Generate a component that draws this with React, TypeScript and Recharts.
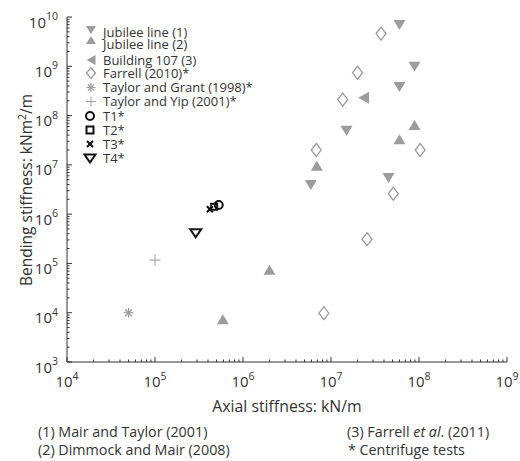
import React from 'react';
import { ScatterChart, Scatter, XAxis, YAxis } from 'recharts';

// [axial stiffness kN/m, bending stiffness kNm2/m]
const jubilee1 = [
  [6.0e7, 6.9e9],
  [8.9e7, 9.8e8],
  [6.0e7, 3.8e8],
  [1.5e7, 4.9e7],
  [5.9e6, 3.9e6],
  [4.5e7, 5.4e6],
];
const jubilee2 = [
  [8.9e7, 6.4e7],
  [6.0e7, 3.3e7],
  [6.9e6, 9.6e6],
  [2.0e6, 7.4e4],
  [5.9e5, 7.4e3],
];
const building107 = [[2.35e7, 2.3e8]];
const farrell = [
  [3.7e7, 4.6e9],
  [2.0e7, 7.4e8],
  [1.36e7, 2.1e8],
  [6.8e6, 2.0e7],
  [1.03e8, 2.0e7],
  [5.1e7, 2.6e6],
  [2.57e7, 3.1e5],
  [8.3e6, 9.8e3],
];
const taylorGrant = [[5.0e4, 1.0e4]];
const taylorYip = [[1.0e5, 1.17e5]];
const t1 = [[5.3e5, 1.53e6]];
const t2 = [[4.7e5, 1.41e6]];
const t3 = [[4.2e5, 1.26e6]];
const t4 = [[2.9e5, 4.1e5]];

const xDecades = [4, 5, 6, 7, 8, 9];
const yDecades = [3, 4, 5, 6, 7, 8, 9, 10];
const minorSteps = [2, 3, 4, 5, 6, 7, 8, 9];

const legendLabels = [
  'Jubilee line (1)',
  'Jubilee line (2)',
  'Building 107 (3)',
  'Farrell (2010)*',
  'Taylor and Grant (1998)*',
  'Taylor and Yip (2001)*',
  'T1*',
  'T2*',
  'T3*',
  'T4*',
];
const footnotes = [
  '(1) Mair and Taylor (2001)',
  '(2) Dimmock and Mair (2008)',
  '(3) Farrell et al. (2011)',
  '* Centrifuge tests',
];

const toPoints = (arr: number[][]) => arr.map(([x, y]) => ({ x, y }));

const buildTicks = (decades: number[]) => {
  const out: number[] = [];
  decades.forEach((d, i) => {
    out.push(Math.pow(10, d));
    if (i < decades.length - 1) minorSteps.forEach((m) => out.push(m * Math.pow(10, d)));
  });
  return out;
};
const xTicks = buildTicks(xDecades);
const yTicks = buildTicks(yDecades);

const GRAY = '#9c9c9c';
const INK = '#333';
const FONT = '"Open Sans", sans-serif';

type P = { cx?: number; cy?: number };

const DownTri = (cx: number, cy: number, w: number, h: number, filled = true) => (
  <path
    d={`M${cx - w / 2},${cy - h / 2}L${cx + w / 2},${cy - h / 2}L${cx},${cy + h / 2}Z`}
    fill={filled ? GRAY : 'none'}
    stroke={filled ? 'none' : '#111'}
    strokeWidth={filled ? 0 : 2}
  />
);
const UpTri = (cx: number, cy: number, w: number, h: number) => (
  <path d={`M${cx - w / 2},${cy + h / 2}L${cx + w / 2},${cy + h / 2}L${cx},${cy - h / 2}Z`} fill={GRAY} />
);
const LeftTri = (cx: number, cy: number, w: number, h: number) => (
  <path d={`M${cx + w / 2},${cy - h / 2}L${cx + w / 2},${cy + h / 2}L${cx - w / 2},${cy}Z`} fill={GRAY} />
);
const Diamond = (cx: number, cy: number, w: number, h: number) => (
  <path
    d={`M${cx},${cy - h / 2}L${cx + w / 2},${cy}L${cx},${cy + h / 2}L${cx - w / 2},${cy}Z`}
    fill="#fff"
    stroke={GRAY}
    strokeWidth={1.3}
  />
);
const Star = (cx: number, cy: number, r: number) => (
  <g stroke={GRAY} strokeWidth={1.2}>
    <line x1={cx - r} y1={cy} x2={cx + r} y2={cy} />
    <line x1={cx} y1={cy - r} x2={cx} y2={cy + r} />
    <line x1={cx - r * 0.7} y1={cy - r * 0.7} x2={cx + r * 0.7} y2={cy + r * 0.7} />
    <line x1={cx - r * 0.7} y1={cy + r * 0.7} x2={cx + r * 0.7} y2={cy - r * 0.7} />
  </g>
);
const Plus = (cx: number, cy: number, r: number) => (
  <g stroke={GRAY} strokeWidth={1}>
    <line x1={cx - r} y1={cy} x2={cx + r} y2={cy} />
    <line x1={cx} y1={cy - r} x2={cx} y2={cy + r} />
  </g>
);
const Circle = (cx: number, cy: number, r: number) => (
  <circle cx={cx} cy={cy} r={r} fill="none" stroke="#111" strokeWidth={2} />
);
const Square = (cx: number, cy: number, s: number) => (
  <rect x={cx - s / 2} y={cy - s / 2} width={s} height={s} fill="none" stroke="#111" strokeWidth={2} />
);
const Cross = (cx: number, cy: number, r: number) => (
  <g stroke="#111" strokeWidth={2}>
    <line x1={cx - r} y1={cy - r} x2={cx + r} y2={cy + r} />
    <line x1={cx - r} y1={cy + r} x2={cx + r} y2={cy - r} />
  </g>
);

const isMajor = (v: number) => Math.abs(Math.log10(v) - Math.round(Math.log10(v))) < 1e-6;

const XTick = (props: any) => {
  const { x, y, payload } = props;
  const v = payload.value;
  const major = isMajor(v);
  return (
    <g>
      <line x1={x} x2={x} y1={y} y2={y - (major ? 5 : 2.5)} stroke={INK} />
      {major && (
        <text x={x} y={y + 25} textAnchor="middle" fontSize={15} fill={INK} fontFamily={FONT}>
          10
          <tspan dy={-7.5} fontSize={10.5}>
            {Math.round(Math.log10(v))}
          </tspan>
        </text>
      )}
    </g>
  );
};

const YTick = (props: any) => {
  const { x, y, payload } = props;
  const v = payload.value;
  const major = isMajor(v);
  return (
    <g>
      <line x1={x} x2={x + (major ? 5 : 2.5)} y1={y} y2={y} stroke={INK} />
      {major && (
        <text x={x - 9} y={y + 10.5} textAnchor="end" fontSize={15} fill={INK} fontFamily={FONT}>
          10
          <tspan dy={-7.5} fontSize={10.5}>
            {Math.round(Math.log10(v))}
          </tspan>
        </text>
      )}
    </g>
  );
};

const legendRows = [32, 44, 60, 73, 87.5, 101.5, 116, 130, 144, 158.5];
const legendMarkers = [
  (cy: number) => DownTri(91, cy - 2, 10, 8),
  (cy: number) => UpTri(91, cy - 4, 10, 8),
  (cy: number) => LeftTri(91, cy, 9, 10),
  (cy: number) => Diamond(91, cy, 9, 11),
  (cy: number) => Star(91, cy, 4.5),
  (cy: number) => Plus(91, cy, 5),
  (cy: number) => Circle(90, cy, 4),
  (cy: number) => Square(90, cy, 7),
  (cy: number) => Cross(90, cy, 3),
  (cy: number) => DownTri(90, cy, 11, 8, false),
];

const Overlay = () => (
  <svg width={520} height={461} style={{ position: 'absolute', left: 0, top: 0, pointerEvents: 'none' }}>
    {legendLabels.map((label, i) => (
      <g key={label}>
        {legendMarkers[i](legendRows[i])}
        <text x={103} y={legendRows[i] + 4.5} fontSize={13} fill={INK} fontFamily={FONT}>
          {label}
        </text>
      </g>
    ))}
    <text
      transform="translate(32,190) rotate(-90)"
      textAnchor="middle"
      fontSize={15.5}
      fill={INK}
      fontFamily={FONT}
    >
      Bending stiffness: kNm<tspan dy={-6} fontSize={10.5}>2</tspan>
      <tspan dy={6}>/m</tspan>
    </text>
    <text x={287} y={412} textAnchor="middle" fontSize={15.8} fill={INK} fontFamily={FONT}>
      Axial stiffness: kN/m
    </text>
    <g fontSize={14.3} fill={INK} fontFamily={FONT}>
      <text x={38} y={437}>{footnotes[0]}</text>
      <text x={38} y={455}>{footnotes[1]}</text>
      <text x={347} y={437}>
        (3) Farrell <tspan fontStyle="italic">et al</tspan>. (2011)
      </text>
      <text x={348} y={455}>{footnotes[3]}</text>
    </g>
  </svg>
);

const shape = (fn: (cx: number, cy: number) => React.ReactElement) => (p: P) => fn(p.cx ?? 0, p.cy ?? 0);

export default function App() {
  return (
    <div style={{ position: 'absolute', left: 0, top: 0, width: 520, height: 461, background: '#fff' }}>
      <ScatterChart width={520} height={461} margin={{ top: 17, right: 13, bottom: 69, left: 7 }}>
        <XAxis
          type="number"
          dataKey="x"
          scale="log"
          domain={[1e4, 1e9]}
          ticks={xTicks}
          interval={0}
          tick={<XTick />}
          tickLine={false}
          tickSize={0}
          tickMargin={0}
          height={30}
          stroke={INK}
          allowDataOverflow
        />
        <YAxis
          type="number"
          dataKey="y"
          scale="log"
          domain={[1e3, 1e10]}
          ticks={yTicks}
          interval={0}
          tick={<YTick />}
          tickLine={false}
          tickSize={0}
          tickMargin={0}
          width={60}
          stroke={INK}
          allowDataOverflow
        />
        <Scatter data={toPoints(farrell)} isAnimationActive={false} shape={shape((x, y) => Diamond(x, y, 10, 13))} />
        <Scatter data={toPoints(jubilee1)} isAnimationActive={false} shape={shape((x, y) => DownTri(x, y, 12, 10))} />
        <Scatter data={toPoints(jubilee2)} isAnimationActive={false} shape={shape((x, y) => UpTri(x, y, 12, 10))} />
        <Scatter data={toPoints(building107)} isAnimationActive={false} shape={shape((x, y) => LeftTri(x, y, 11, 12))} />
        <Scatter data={toPoints(taylorGrant)} isAnimationActive={false} shape={shape((x, y) => Star(x, y, 5))} />
        <Scatter data={toPoints(taylorYip)} isAnimationActive={false} shape={shape((x, y) => Plus(x, y, 5.5))} />
        <Scatter data={toPoints(t4)} isAnimationActive={false} shape={shape((x, y) => DownTri(x, y, 11, 8, false))} />
        <Scatter data={toPoints(t3)} isAnimationActive={false} shape={shape((x, y) => Cross(x, y, 3))} />
        <Scatter data={toPoints(t2)} isAnimationActive={false} shape={shape((x, y) => Square(x, y, 6))} />
        <Scatter data={toPoints(t1)} isAnimationActive={false} shape={shape((x, y) => Circle(x, y, 4))} />
      </ScatterChart>
      <Overlay />
    </div>
  );
}
